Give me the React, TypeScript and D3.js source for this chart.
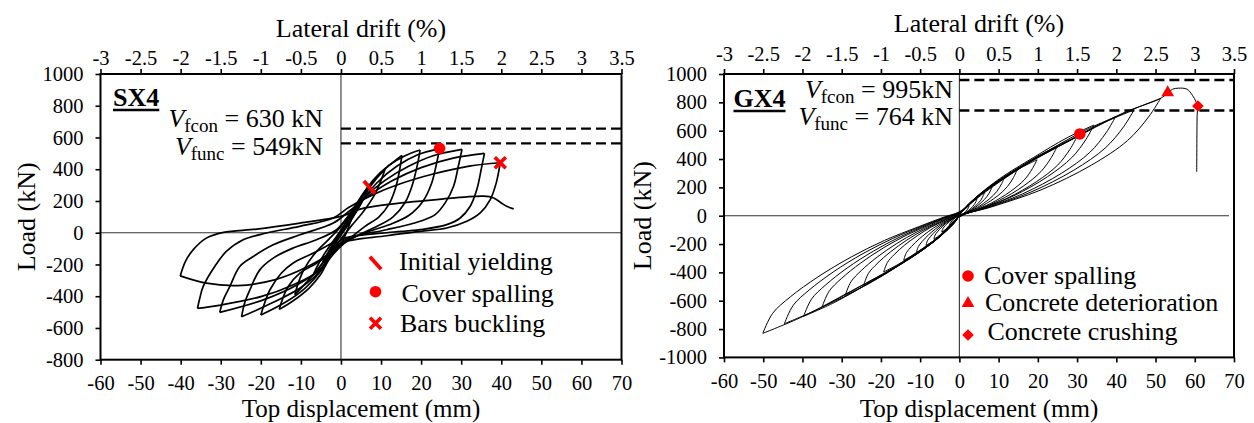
import React, { useRef, useEffect } from 'react'
import * as d3 from 'd3'

type Pt = [number, number]

// ---- data ----
const displacementTicks = [-60, -50, -40, -30, -20, -10, 0, 10, 20, 30, 40, 50, 60, 70]
const driftTicks = [-3, -2.5, -2, -1.5, -1, -0.5, 0, 0.5, 1, 1.5, 2, 2.5, 3, 3.5]
const sx4LoadTicks = [-800, -600, -400, -200, 0, 200, 400, 600, 800, 1000]
const gx4LoadTicks = [-1000, -800, -600, -400, -200, 0, 200, 400, 600, 800, 1000]

// dashed capacity lines (as drawn)
const sx4Limits = [656, 563]
const gx4Limits = [958, 742]

// SX4 hysteresis, tip-to-tip branches [mm, kN]
const sx4Branches: Pt[][] = [
  [[0, 0], [1, 48], [2.2, 100]],
  [[2.2, 100], [1.5, 62], [0.5, 15], [-0.8, -40], [-2.2, -92]],
  [[-2.2, -92], [-1.4, -50], [-0.3, 3], [1, 55], [2.6, 118], [4.5, 195]],
  [[4.5, 195], [3.6, 150], [2.2, 85], [0.6, 20], [-1, -40], [-2.6, -110], [-4.5, -185]],
  [[-4.5, -185], [-3.6, -140], [-2, -70], [-0.3, 0], [1.5, 75], [3.5, 160], [5.5, 240], [7.1, 289]],
  [[7.1, 289], [6, 230], [4.3, 150], [2, 60], [0, -15], [-2, -90], [-4.5, -190], [-7, -270]],
  [[-7, -270], [-6, -215], [-4.3, -140], [-2, -55], [0, 15], [2.5, 110], [5.5, 230], [8.5, 330], [11, 400]],
  [[11, 400], [10, 330], [8.3, 235], [5.5, 130], [2.5, 40], [0, -40], [-2.5, -120], [-5.5, -220], [-8.5, -310], [-11.5, -390]],
  [[-11.5, -390], [-10.7, -320], [-9.2, -230], [-6.5, -130], [-3, -40], [0, 40], [3, 150], [6.5, 280], [10.5, 390], [15.2, 487]],
  [[15.2, 487], [14.6, 390], [13.6, 280], [12, 180], [9.5, 100], [6, 40], [2, -40], [-1, -110], [-3, -170], [-5, -260], [-8, -350], [-12, -430], [-15.4, -483]],
  [[-15.4, -483], [-14.6, -420], [-13.2, -340], [-10.25, -255], [-6.1, -192], [-1.1, -108], [1, -20], [3, 110], [5, 220], [8, 330], [12, 425], [16, 485], [19.75, 521]],
  [[19.75, 521], [19, 420], [17.8, 300], [16, 190], [13, 100], [9, 40], [4, -20], [0, -80], [-3, -150], [-5, -240], [-9, -350], [-14, -440], [-20, -519]],
  [[-20, -519], [-19, -440], [-17.75, -361], [-14.9, -255], [-12, -192], [-7, -129], [-1.1, -44], [2, 60], [5, 190], [9, 315], [14, 420], [19, 490], [24.6, 530]],
  [[24.6, 530], [23.8, 430], [22.6, 310], [20.5, 200], [17, 110], [12, 50], [6, 0], [0, -70], [-3, -140], [-5, -235], [-10, -345], [-17, -440], [-24.8, -530]],
  [[-24.8, -530], [-24, -440], [-22.75, -361], [-20.25, -234], [-16.9, -160], [-12, -97], [-6.1, -44], [-1.1, 19], [2, 110], [6, 225], [11, 330], [17, 420], [23, 485], [30.2, 525]],
  [[30.2, 525], [29.3, 420], [28.1, 293], [26, 188], [23.5, 114], [19.75, 72], [11.4, 19], [3.1, -23], [0, -60], [-2, -120], [-5, -225], [-11, -330], [-19, -420], [-30.25, -502]],
  [[-30.25, -502], [-29.3, -420], [-27.75, -340], [-25.25, -213], [-21.9, -150], [-16.9, -76], [-10.25, -13], [-1.9, 61], [2, 135], [7, 235], [13, 330], [20, 410], [28, 470], [35.8, 500]],
  [[35.8, 500], [35, 400], [33.9, 272], [32.25, 167], [29.75, 93], [26.4, 51], [19.75, 19], [11.4, 0], [0, -44], [-2, -110], [-5.3, -235], [-12, -329], [-20, -403], [-30, -456], [-35.8, -477]],
  [[-35.8, -477], [-35.2, -410], [-34.4, -340], [-31.5, -213], [-28.6, -118], [-24.4, -44], [-18.6, -2], [-10.3, 40], [-1.9, 93], [2, 160], [8, 240], [15, 310], [23, 370], [32, 420], [39.75, 441]],
  [[39.75, 441], [38.75, 314], [37.25, 209], [34.75, 125], [31.4, 72], [26.4, 30], [19.75, 8], [11.4, -19], [0, -65], [-2.75, -129], [-8.25, -213], [-16.6, -297], [-25.75, -333], [-33.6, -318], [-40.1, -272]],
  [[-40.1, -272], [-38.8, -180], [-36.9, -108], [-33.6, -34], [-29.3, 2], [-21, 23], [-10.25, 61], [0, 103], [5, 150], [11.4, 177], [23.9, 209], [35.6, 230], [38.1, 219], [40.2, 184], [41.5, 165], [43.1, 150]],
]

// GX4 hysteresis, tip-to-tip branches [mm, kN]
const gx4Branches: Pt[][] = [
  [[0, 0], [0.3, 14], [0.75, 29], [1.4, 45], [2, 60], [2.5, 70]],
  [[2.5, 70], [2.35, 59], [2.1, 45], [1.65, 30], [1, 15], [0.4, 5], [0, -1], [-0.3, -13], [-0.75, -27], [-1.4, -42], [-2, -56], [-2.5, -65]],
  [[-2.5, -65], [-2.4, -54], [-2.15, -45], [-1.8, -34], [-1.4, -23], [-0.95, -14], [-0.5, -6], [-0.2, -1], [0, 2], [0.55, 24], [1.35, 49], [2.5, 77], [3.6, 103], [4.5, 120]],
  [[4.5, 120], [4.25, 101], [3.75, 77], [2.95, 52], [1.8, 26], [0.7, 9], [0, -1], [-0.55, -23], [-1.35, -47], [-2.5, -74], [-3.6, -99], [-4.5, -115]],
  [[-4.5, -115], [-4.3, -96], [-3.9, -79], [-3.25, -60], [-2.5, -40], [-1.7, -24], [-0.95, -11], [-0.35, -1], [0, 4], [0.8, 34], [1.95, 70], [3.6, 109], [5.2, 146], [6.5, 170]],
  [[6.5, 170], [6.1, 143], [5.45, 109], [4.25, 73], [2.65, 37], [1.05, 13], [0, -2], [-0.8, -33], [-1.95, -68], [-3.6, -106], [-5.2, -142], [-6.5, -165]],
  [[-6.5, -165], [-6.2, -137], [-5.6, -114], [-4.7, -86], [-3.6, -58], [-2.45, -35], [-1.35, -16], [-0.5, -2], [0, 6], [1, 43], [2.55, 88], [4.7, 138], [6.8, 185], [8.5, 215]],
  [[8.5, 215], [8, 181], [7.1, 138], [5.55, 92], [3.45, 47], [1.35, 16], [0, -2], [-1, -42], [-2.55, -86], [-4.7, -134], [-6.8, -181], [-8.5, -210]],
  [[-8.5, -210], [-8.1, -174], [-7.3, -145], [-6.1, -109], [-4.7, -74], [-3.25, -44], [-1.8, -20], [-0.65, -2], [0, 7], [1.4, 54], [3.45, 111], [6.3, 173], [9.2, 232], [11.5, 270]],
  [[11.5, 270], [10.8, 227], [9.6, 173], [7.55, 116], [4.65, 59], [1.85, 20], [0, -3], [-1.3, -52], [-3.3, -107], [-6.05, -168], [-8.8, -225], [-11, -262]],
  [[-11, -262], [-10.45, -218], [-9.45, -181], [-7.9, -136], [-6.05, -92], [-4.2, -55], [-2.3, -25], [-0.8, -3], [0, 9], [1.75, 64], [4.4, 132], [8.1, 206], [11.75, 277], [14.7, 322]],
  [[14.7, 322], [13.8, 270], [12.25, 206], [9.65, 138], [5.95, 71], [2.35, 24], [0, -3], [-1.7, -63], [-4.25, -129], [-7.8, -201], [-11.35, -270], [-14.2, -314]],
  [[-14.2, -314], [-13.5, -261], [-12.2, -217], [-10.2, -163], [-7.8, -110], [-5.4, -66], [-3, -30], [-1.05, -3], [0, 11], [2.4, 79], [5.95, 162], [10.9, 253], [15.85, 340], [19.8, 395]],
  [[19.8, 395], [18.6, 332], [16.55, 253], [12.95, 170], [8, 87], [3.15, 30], [0, -4], [-2.3, -79], [-5.8, -163], [-10.6, -254], [-15.45, -341], [-19.3, -397]],
  [[-19.3, -397], [-18.35, -330], [-16.6, -274], [-13.9, -206], [-10.6, -139], [-7.35, -83], [-4.05, -38], [-1.45, -4], [0, 13], [3, 97], [7.45, 200], [13.7, 312], [19.9, 419], [24.9, 487]],
  [[24.9, 487], [23.4, 409], [20.8, 312], [16.3, 209], [10.1, 107], [4, 37], [0, -5], [-2.95, -98], [-7.3, -201], [-13.4, -314], [-19.5, -422], [-24.4, -491]],
  [[-24.4, -491], [-23.2, -408], [-21, -339], [-17.55, -255], [-13.4, -172], [-9.25, -103], [-5.1, -47], [-1.85, -5], [0, 17], [3.6, 112], [9, 229], [16.5, 357], [24, 480], [30, 558]],
  [[30, 558], [28.2, 469], [25.05, 357], [19.65, 240], [12.15, 123], [4.8, 42], [0, -6], [-3.5, -112], [-8.75, -230], [-16, -360], [-23.3, -483], [-29.1, -562]],
  [[-29.1, -562], [-27.65, -467], [-25.05, -388], [-20.95, -292], [-16, -197], [-11.05, -118], [-6.1, -53], [-2.2, -6], [0, 19], [4.1, 128], [10.3, 262], [18.85, 410], [27.45, 550], [34.3, 640]],
  [[34.3, 640], [32.25, 538], [28.65, 410], [22.45, 275], [13.9, 141], [5.5, 48], [0, -6], [-4.2, -129], [-10.5, -264], [-19.25, -412], [-28, -554], [-35, -644]],
  [[-35, -644], [-33.25, -535], [-30.1, -444], [-25.2, -335], [-19.25, -225], [-13.3, -135], [-7.35, -61], [-2.65, -6], [0, 22], [4.8, 140], [11.95, 286], [21.9, 447], [31.85, 600], [39.8, 698]],
  [[39.8, 698], [37.4, 586], [33.25, 447], [26.05, 300], [16.1, 154], [6.35, 52], [0, -7], [-4.75, -142], [-11.9, -291], [-21.85, -454], [-31.75, -611], [-39.7, -710]],
  [[-39.7, -710], [-37.7, -589], [-34.15, -490], [-28.6, -369], [-21.85, -249], [-15.1, -149], [-8.35, -67], [-3, -7], [0, 24], [5.35, 149], [13.35, 306], [24.5, 477], [35.6, 642], [44.5, 746]],
  [[44.5, 746], [41.85, 627], [37.15, 477], [29.15, 321], [18, 164], [7.1, 56], [0, -7], [-5.35, -152], [-13.4, -312], [-24.55, -488], [-35.7, -655], [-44.6, -762]],
  [[-44.6, -762], [-42.35, -632], [-38.35, -526], [-32.1, -396], [-24.55, -267], [-16.95, -160], [-9.35, -72], [-3.35, -8], [0, 26], [6.15, 166], [15.4, 340], [28.2, 530], [41.05, 712], [51.3, 828]],
  [[51.3, 828], [48.2, 696], [42.85, 530], [33.6, 356], [20.8, 182], [8.2, 62], [0, -8], [-6, -166], [-15, -340], [-27.55, -531], [-40.1, -714], [-50.1, -830]],
  [[-50.1, -830], [-47.6, -689], [-43.1, -573], [-36.05, -432], [-27.55, -291], [-19.05, -174], [-10.5, -79], [-3.75, -8], [0, 28], [6.5, 165], [16, 345], [29, 545], [42, 728], [51.3, 828], [53.1, 866], [54.3, 892], [55.8, 900], [58, 893], [59.4, 850], [60.3, 805], [60.7, 775], [60.6, 700], [60.5, 310]],
]

const sx4Events = [
  { shape: 'slash', x: 7.1, y: 287 },
  { shape: 'circle', x: 24.6, y: 532 },
  { shape: 'cross', x: 39.75, y: 441 },
]
const gx4Events = [
  { shape: 'circle', x: 30.7, y: 577 },
  { shape: 'triangle', x: 53.1, y: 868 },
  { shape: 'diamond', x: 60.8, y: 774 },
]

const sx4Legend = [
  { shape: 'slash', label: 'Initial yielding' },
  { shape: 'circle', label: 'Cover spalling' },
  { shape: 'cross', label: 'Bars buckling' },
]
const gx4Legend = [
  { shape: 'circle', label: 'Cover spalling' },
  { shape: 'triangle', label: 'Concrete deterioration' },
  { shape: 'diamond', label: 'Concrete crushing' },
]

const FONT = "'Liberation Serif', Tinos, 'Times New Roman', 'DejaVu Serif', serif"
const RED = '#ff0000'

function drawMarker(g: any, shape: string, cx: number, cy: number) {
  if (shape === 'slash') {
    g.append('line').attr('x1', cx - 5.6).attr('y1', cy - 6.2).attr('x2', cx + 5.6).attr('y2', cy + 6.2)
      .attr('stroke', RED).attr('stroke-width', 3.8)
  } else if (shape === 'circle') {
    g.append('circle').attr('cx', cx).attr('cy', cy).attr('r', 5.8).attr('fill', RED)
  } else if (shape === 'cross') {
    g.append('path').attr('d', `M${cx - 5.5},${cy - 5.5}L${cx + 5.5},${cy + 5.5}M${cx - 5.5},${cy + 5.5}L${cx + 5.5},${cy - 5.5}`)
      .attr('stroke', RED).attr('stroke-width', 3.6)
  } else if (shape === 'triangle') {
    g.append('path').attr('d', d3.symbol().type(d3.symbolTriangle).size(70)())
      .attr('transform', `translate(${cx},${cy})`).attr('fill', RED)
  } else if (shape === 'diamond') {
    g.append('path').attr('d', d3.symbol().type(d3.symbolSquare).size(68)())
      .attr('transform', `translate(${cx},${cy}) rotate(45)`).attr('fill', RED)
  }
}

function drawPanel(svg: any, cfg: any) {
  const { box } = cfg
  const x = d3.scaleLinear().domain([-60, 70]).range([box.left, box.right])
  const xd = d3.scaleLinear().domain([-3, 3.5]).range([box.left, box.right])
  const y = d3.scaleLinear().domain(cfg.yDomain).range([box.bottom, box.top])
  const g = svg.append('g').style('font-family', FONT)

  // zero lines
  g.append('line').attr('x1', x(0)).attr('x2', x(0)).attr('y1', box.top).attr('y2', box.bottom)
    .attr('stroke', '#333').attr('stroke-width', 1.1)
  g.append('line').attr('x1', box.left).attr('x2', box.right - cfg.zeroGap).attr('y1', y(0)).attr('y2', y(0))
    .attr('stroke', '#333').attr('stroke-width', 1.1)

  // capacity lines
  cfg.limits.forEach((v: number) => {
    g.append('line').attr('x1', x(0)).attr('x2', box.right).attr('y1', y(v)).attr('y2', y(v))
      .attr('stroke', '#000').attr('stroke-width', 2.4).attr('stroke-dasharray', '10,5')
  })

  // hysteresis
  const line = d3.line<Pt>().x(d => x(d[0])).y(d => y(d[1])).curve(d3.curveCatmullRom.alpha(0.5))
  cfg.branches.forEach((b: Pt[]) => {
    g.append('path').attr('d', line(b)).attr('fill', 'none').attr('stroke', '#000')
      .attr('stroke-width', cfg.curveWidth).attr('stroke-linejoin', 'round')
  })

  // frame
  g.append('rect').attr('x', box.left).attr('y', box.top)
    .attr('width', box.right - box.left).attr('height', box.bottom - box.top)
    .attr('fill', 'none').attr('stroke', '#000').attr('stroke-width', 2)

  const styleAxis = (a: any) => {
    a.select('.domain').remove()
    a.attr('font-size', null).attr('font-family', null).attr('color', '#000')
    a.selectAll('text').style('font-family', FONT).style('font-size', '20.5px')
    a.selectAll('line').attr('stroke-width', 1.6)
  }
  g.append('g').attr('transform', `translate(0,${box.bottom})`)
    .call(d3.axisBottom(x).tickValues(displacementTicks).tickSize(5).tickPadding(cfg.bottomPad).tickFormat(d => String(d)))
    .call(styleAxis)
  g.append('g').attr('transform', `translate(0,${box.top})`)
    .call(d3.axisTop(xd).tickValues(driftTicks).tickSize(5).tickPadding(cfg.topPad).tickFormat(d => String(d)))
    .call(styleAxis)
  g.append('g').attr('transform', `translate(${box.left},0)`)
    .call(d3.axisLeft(y).tickValues(cfg.yTicks).tickSize(5).tickPadding(12).tickFormat(d => String(d)))
    .call(styleAxis)

  const cx = (box.left + box.right) / 2
  const big = (t: any) => t.style('font-family', FONT).style('font-size', '26px')
  g.append('text').attr('x', cx).attr('y', cfg.topTitleY).attr('text-anchor', 'middle')
    .call(big).text('Lateral drift (%)')
  g.append('text').attr('x', cx).attr('y', cfg.bottomTitleY).attr('text-anchor', 'middle')
    .call(big).style('font-size', '25px').text('Top displacement (mm)')
  g.append('text').attr('transform', `translate(${cfg.yTitleX},${(box.top + box.bottom) / 2}) rotate(-90)`)
    .attr('text-anchor', 'middle').call(big).text('Load (kN)')

  // specimen name, underlined
  const nm = g.append('text').attr('x', cfg.name.x).attr('y', cfg.name.y).call(big)
    .attr('font-weight', 'bold').text(cfg.name.text)
  const w = (nm.node() as SVGTextElement).getComputedTextLength()
  g.append('line').attr('x1', cfg.name.x).attr('x2', cfg.name.x + w)
    .attr('y1', cfg.name.y + 4.5).attr('y2', cfg.name.y + 4.5).attr('stroke', '#000').attr('stroke-width', 2.6)

  cfg.vTexts.forEach((v: any) => {
    const t = g.append('text').attr('x', v.x).attr('y', v.y).attr('text-anchor', 'end').call(big)
    t.append('tspan').attr('font-style', 'italic').text('V')
    t.append('tspan').style('font-size', '19px').attr('dy', 5).text(v.sub)
    t.append('tspan').attr('dy', -5).text(v.rest)
  })

  cfg.events.forEach((e: any) => drawMarker(g, e.shape, x(e.x), y(e.y)))

  cfg.legend.items.forEach((it: any, i: number) => {
    const L = cfg.legend
    drawMarker(g, it.shape, L.markerX, L.markerY[i])
    g.append('text').attr('x', L.textX[i]).attr('y', L.baseY[i]).call(big).text(it.label)
  })
}

const leftCfg = {
  box: { left: 100.5, right: 621.5, top: 74, bottom: 359.7 },
  yDomain: [-800, 1000], yTicks: sx4LoadTicks,
  branches: sx4Branches, limits: sx4Limits, events: sx4Events,
  curveWidth: 1.7, zeroGap: 0,
  topPad: 4, bottomPad: 10.5, topTitleY: 36.5, bottomTitleY: 417, yTitleX: 35,
  name: { text: 'SX4', x: 113, y: 105.5 },
  vTexts: [
    { sub: 'fcon', rest: ' = 630 kN', x: 323, y: 127 },
    { sub: 'func', rest: ' = 549kN', x: 323, y: 155 },
  ],
  legend: { items: sx4Legend, markerX: 375.5, markerY: [263, 291.7, 323.3], textX: [399, 401.5, 400], baseY: [270, 301.7, 331.7] },
}

const rightCfg = {
  box: { left: 724, right: 1234, top: 74, bottom: 357.4 },
  yDomain: [-1000, 1000], yTicks: gx4LoadTicks,
  branches: gx4Branches, limits: gx4Limits, events: gx4Events,
  curveWidth: 1, zeroGap: 5,
  topPad: 8, bottomPad: 11, topTitleY: 32, bottomTitleY: 417, yTitleX: 651,
  name: { text: 'GX4', x: 733.5, y: 106.5 },
  vTexts: [
    { sub: 'fcon', rest: ' = 995kN', x: 953, y: 98 },
    { sub: 'func', rest: ' = 764 kN', x: 953, y: 125 },
  ],
  legend: { items: gx4Legend, markerX: 968, markerY: [276, 303.3, 335], textX: [984, 985, 987.5], baseY: [284, 310.7, 340] },
}

export default function App() {
  const ref = useRef<SVGSVGElement>(null)

  useEffect(() => {
    if (!ref.current) return
    const svg = d3.select(ref.current)
    svg.selectAll('*').remove()
    drawPanel(svg, leftCfg)
    drawPanel(svg, rightCfg)
  }, [])

  return (
    <svg ref={ref} width={1254} height={423}
      style={{ position: 'absolute', left: 0, top: 0, background: '#fff', fontFamily: FONT }} />
  )
}
